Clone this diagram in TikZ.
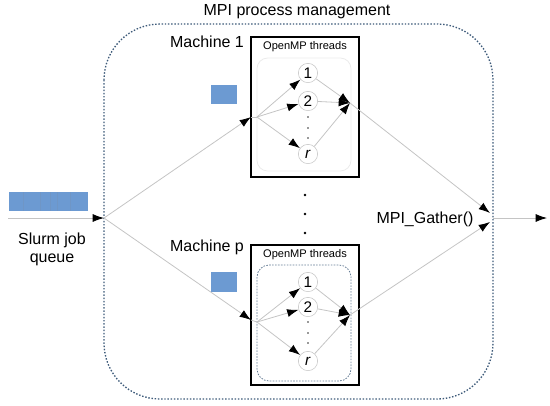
\documentclass[tikz,border=0pt]{standalone}
\usepackage{fontspec}
\setmainfont{Liberation Sans}
\usetikzlibrary{arrows.meta}
\definecolor{lgray}{HTML}{C4C4C4}
\definecolor{qblue}{HTML}{6C9AD2}
\definecolor{dblue}{HTML}{3E5B7A}
\definecolor{faint}{HTML}{EBEBEB}
\begin{document}
\begin{tikzpicture}[x=0.75pt,y=-0.75pt,
  conn/.style={draw=lgray, line width=0.6pt, -{Latex[length=8.5pt,width=6pt,color=black]}},
  plainline/.style={draw=lgray, line width=0.6pt},
  thread/.style={circle, draw=lgray, fill=white, minimum size=14.5pt, inner sep=0pt, font=\fontsize{11.5}{12}\selectfont},
  lbl/.style={font=\fontsize{12}{14}\selectfont, inner sep=0pt},
  smalllbl/.style={font=\fontsize{8.3}{10}\selectfont, inner sep=0pt},
  machine/.style={draw=black, line width=1pt, minimum width=81pt, minimum height=105pt, inner sep=0pt},
  job/.style={fill=qblue, draw=none, inner sep=0pt},
  tinydot/.style={circle, fill=black!80, inner sep=0pt, minimum size=1.4pt},
  bigdot/.style={circle, fill=black, inner sep=0pt, minimum size=2.2pt},
  outerbox/.style={draw=dblue, line width=1pt, dash pattern=on 1.1pt off 1.3pt, rounded corners=42pt},
]
\useasboundingbox (0,0) rectangle (550,405);

% outer MPI region
\draw[outerbox] (104,24) rectangle (493,399);
\node[lbl] (title) at (297,12) {MPI process management};

% machine boxes
\node[machine] (m1) at (305,107) {};
\node[machine] (mp) at (305,315) {};
\draw[draw=faint, line width=0.6pt, rounded corners=8pt] (257,58) rectangle (351,171);
\draw[draw=dblue!80, line width=0.6pt, dash pattern=on 1.2pt off 1pt, rounded corners=9pt] (257,265) rectangle (351,381);

\node[lbl] (m1lbl) at (207,42) {Machine 1};
\node[lbl] (mplbl) at (207,247) {Machine p};
\node[smalllbl] (omp1) at (305,47) {OpenMP threads};
\node[smalllbl] (ompp) at (305,255) {OpenMP threads};

% job blocks
\node[job, minimum width=19.5pt, minimum height=14.25pt] (job1) at (224,94.5) {};
\node[job, minimum width=19.5pt, minimum height=15pt] (jobp) at (224,282) {};
\node[job, minimum width=59.25pt, minimum height=14.25pt] (queue) at (48.5,201.5) {};
\foreach \xx in {23,40,50,57,70}
  \draw[qblue!85!gray, line width=0.3pt] (\xx,192) -- (\xx,211);

% threads
\node[thread] (c11) at (308,73) {1};
\node[thread] (c12) at (308,101) {2};
\node[thread] (c1r) at (308,154) {\textit{r}};
\node[thread] (cp1) at (308,282) {1};
\node[thread] (cp2) at (308,307) {2};
\node[thread] (cpr) at (308,361) {\textit{r}};
\foreach \yy in {117,128,138,322,333,343}
  \node[tinydot] at (308,\yy) {};
\node[bigdot] (d1) at (305,195) {};
\node[bigdot] (d2) at (305,214) {};
\node[bigdot] (d3) at (305,233) {};

% coordinates
\coordinate (qs) at (8,218);
\coordinate (src) at (104,218);
\coordinate (m1e) at (251,117);
\coordinate (f1) at (257,117);
\coordinate (j1) at (350,103);
\coordinate (mpe) at (251,320);
\coordinate (fp) at (257,322);
\coordinate (jp) at (350,315);
\coordinate (g1) at (490,213);
\coordinate (gp) at (490,222);
\coordinate (outs) at (493,218);
\coordinate (oute) at (547,218);

\node[lbl] (gather) at (425,219) {MPI\_Gather()};
\node[lbl, align=center, font=\fontsize{12}{13.5}\selectfont] (slurm) at (52,249) {Slurm job\\queue};

% connectors
\draw[conn] (qs) -- (src);
\draw[conn] (src) -- (m1e);
\draw[conn] (src) -- (mpe);
\draw[plainline] (m1e) -- (f1);
\draw[plainline] (mpe) -- (fp);
\foreach \c in {c11,c12,c1r} {
  \draw[conn] (f1) -- (\c);
  \draw[conn] (\c) -- (j1);
}
\foreach \c in {cp1,cp2,cpr} {
  \draw[conn] (fp) -- (\c);
  \draw[conn] (\c) -- (jp);
}
\draw[conn] (j1) -- (g1);
\draw[conn] (jp) -- (gp);
\draw[conn] (outs) -- (oute);
\end{tikzpicture}
\end{document}
